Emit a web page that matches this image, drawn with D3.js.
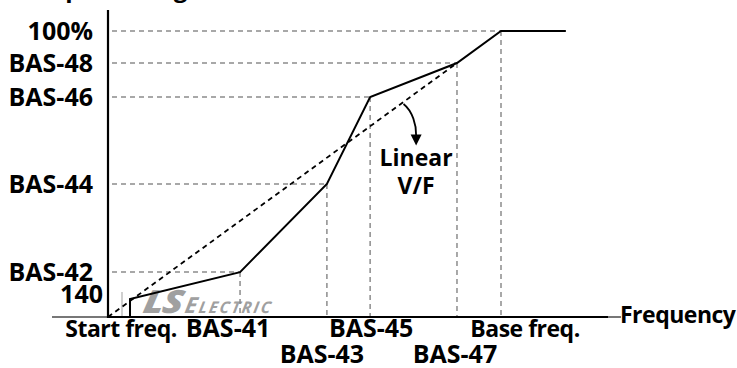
<!DOCTYPE html>
<html>
<head>
<meta charset="utf-8">
<script src="https://cdn.jsdelivr.net/npm/d3@7/dist/d3.min.js"></script>
<style>
  html, body { margin: 0; padding: 0; background: #fff; }
  svg { display: block; }
  text { font-family: "Open Sans", sans-serif; font-weight: 700; fill: #000; }
</style>
</head>
<body>
<svg id="chart" width="737" height="368"></svg>
<script>
// V/F pattern: breakpoints of the user-defined curve (frequency %, voltage %)
const pointFreq = [5.6, 33.6, 55.7, 66.7, 88.8, 100, 116.5];
const pointVolt = [6.3, 15.7, 46.5, 76.9, 88.8, 100, 100];

// Frequency axis labels, one per breakpoint (row 1 = second line)
const freqLabels = ["Start freq.", "BAS-41", "BAS-43", "BAS-45", "BAS-47", "Base freq."];
const freqLabelRow = [0, 0, 1, 0, 1, 0];
const freqLabelShift = [-9, -12, -5, 1, -2, 24];

// Voltage axis labels, one per breakpoint
const voltLabels = ["140", "BAS-42", "BAS-44", "BAS-46", "BAS-48", "100%"];

// Linear V/F reference line (origin to the BAS-47/BAS-48 point)
const linearFreq = [0, 88.8];
const linearVolt = [0, 88.8];

const svg = d3.select("#chart");

const x = d3.scaleLinear().domain([0, 100]).range([108, 501]);
const y = d3.scaleLinear().domain([0, 100]).range([317, 31]);

const gray = "#8c8c8c";
const isCode = s => /^BAS|\d/.test(s);

// Cropped axis title at the top
svg.append("text").attr("x", 20).attr("y", -3)
  .style("font-size", "24px").text("Output voltage");

// Watermark logo
svg.append("line").attr("x1", 122).attr("x2", 122).attr("y1", 292).attr("y2", 317)
  .attr("stroke", "#b0b0b0").attr("stroke-width", 1.2);
const logo = svg.append("g").attr("transform", "translate(142,313) skewX(-10)");
logo.append("text").attr("x", 0).attr("y", 0)
  .attr("transform", "scale(1.2,1)")
  .style("font-size", "32px").style("font-weight", 800).style("font-style", "italic")
  .style("fill", "#a0a0a0").style("letter-spacing", "-1px").text("LS");
logo.append("text").attr("x", 42).attr("y", 0)
  .style("font-style", "italic").style("fill", "#a0a0a0").style("font-weight", 700)
  .style("letter-spacing", "2px")
  .call(t => {
    t.append("tspan").style("font-size", "22px").text("E");
    t.append("tspan").style("font-size", "16px").text("LECTRIC");
  });

// Horizontal dashed guides from the voltage axis to each breakpoint
const guideIdx = [1, 2, 3, 4, 5];
svg.append("g").selectAll("line").data(guideIdx).join("line")
  .attr("x1", x(0) + 4).attr("x2", i => x(pointFreq[i]))
  .attr("y1", i => y(pointVolt[i])).attr("y2", i => y(pointVolt[i]))
  .attr("stroke", gray).attr("stroke-width", 1.5).attr("stroke-dasharray", "5,4");

// Vertical dashed guides down to the frequency axis
svg.append("g").selectAll("line").data(guideIdx).join("line")
  .attr("x1", i => x(pointFreq[i])).attr("x2", i => x(pointFreq[i]))
  .attr("y1", i => y(pointVolt[i])).attr("y2", y(0))
  .attr("stroke", gray).attr("stroke-width", 1.5).attr("stroke-dasharray", "5,4");

// Linear V/F dashed line
svg.append("path")
  .datum(linearFreq.map((f, i) => [f, linearVolt[i]]))
  .attr("d", d3.line().x(d => x(d[0])).y(d => y(d[1])))
  .attr("fill", "none").attr("stroke", "#000").attr("stroke-width", 1.8)
  .attr("stroke-dasharray", "5,4");

// Axes
svg.append("line").attr("x1", 52).attr("x2", x(0)).attr("y1", y(0)).attr("y2", y(0))
  .attr("stroke", "#777").attr("stroke-width", 2);
svg.append("line").attr("x1", x(0)).attr("x2", 608).attr("y1", y(0)).attr("y2", y(0))
  .attr("stroke", "#000").attr("stroke-width", 2.2);
svg.append("line").attr("x1", 608).attr("x2", 621).attr("y1", y(0)).attr("y2", y(0))
  .attr("stroke", "#777").attr("stroke-width", 2);
svg.append("line").attr("x1", x(0)).attr("x2", x(0)).attr("y1", 10).attr("y2", y(0) + 1)
  .attr("stroke", "#000").attr("stroke-width", 2.2);

// User V/F curve (starts with a vertical step at start frequency)
const curve = [[pointFreq[0], 0]].concat(pointFreq.map((f, i) => [f, pointVolt[i]]));
svg.append("path").datum(curve)
  .attr("d", d3.line().x(d => x(d[0])).y(d => y(d[1])))
  .attr("fill", "none").attr("stroke", "#000").attr("stroke-width", 2)
  .attr("stroke-linejoin", "miter");

// Voltage labels
svg.append("g").selectAll("text").data(voltLabels).join("text")
  .attr("x", (d, i) => i === 0 ? 103 : 93)
  .attr("y", (d, i) => y(pointVolt[i]) + (i === 0 ? 4 : 9))
  .attr("text-anchor", "end").style("font-size", "25px")
  .text(d => d);

// Frequency labels
svg.append("g").selectAll("text").data(freqLabels).join("text")
  .attr("x", (d, i) => x(pointFreq[i]) + freqLabelShift[i])
  .attr("y", (d, i) => 337 + freqLabelRow[i] * 26)
  .attr("text-anchor", "middle")
  .style("font-size", d => isCode(d) ? "25px" : "23px")
  .style("letter-spacing", d => isCode(d) ? "0px" : "-0.5px")
  .text(d => d);

svg.append("text").attr("x", 620).attr("y", 323)
  .style("font-size", "23px").style("letter-spacing", "-0.5px").text("Frequency");

// Arrow pointing at the linear V/F line
svg.append("path")
  .attr("d", `M${x(75.2)},${y(75.2) + 2} C${x(77.5)},${y(72)} ${x(78.5)},${y(67)} ${x(78.4)},${y(63.5)}`)
  .attr("fill", "none").attr("stroke", "#000").attr("stroke-width", 1.8);
svg.append("path")
  .attr("d", `M${x(78.4) - 5.5},${y(63.8)} L${x(78.4) + 5.5},${y(63.8)} L${x(78.4)},${y(60)} Z`)
  .attr("fill", "#000");
svg.append("text").attr("x", x(78.4)).attr("y", 166)
  .attr("text-anchor", "middle").style("font-size", "23px").text("Linear");
svg.append("text").attr("x", x(78.4)).attr("y", 194)
  .attr("text-anchor", "middle").style("font-size", "23px").text("V/F");
</script>
</body>
</html>
